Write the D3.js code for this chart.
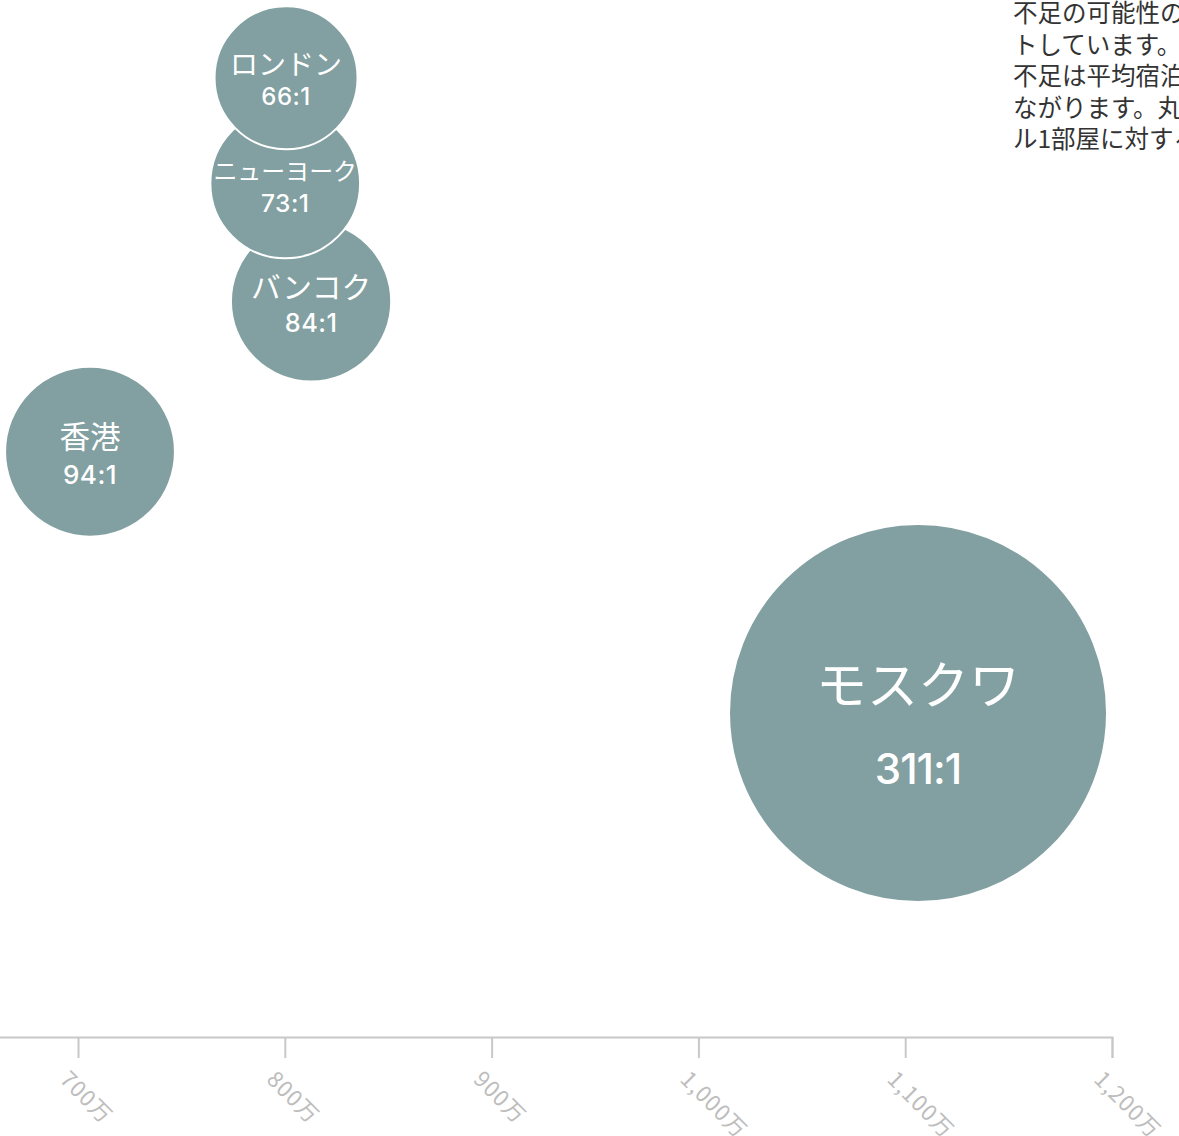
<!DOCTYPE html>
<html lang="ja">
<head>
<meta charset="utf-8">
<script src="https://cdn.jsdelivr.net/npm/d3@7"></script>
<style>
  html, body { margin: 0; padding: 0; background: #fff; overflow: hidden; }
  svg { display: block; font-family: "Noto Sans CJK JP", "Noto Sans", sans-serif; }
</style>
</head>
<body>
<svg id="chart" width="1179" height="1136"></svg>
<script>
// Cities, population (x), hotel rooms (y) and visitors per hotel room (bubble)
const cities = ["ロンドン", "ニューヨーク", "バンコク", "香港", "モスクワ"];
const population = [8006000, 8002000, 8127000, 7058000, 11062000];
const hotelRooms = [148000, 131700, 113500, 90300, 50000];
const visitorsPerRoom = [66, 73, 84, 94, 311];

const xTicks = [7000000, 8000000, 9000000, 10000000, 11000000, 12000000];
const xTickLabels = ["700万", "800万", "900万", "1,000万", "1,100万", "1,200万"];

const noteLines = [
  "不足の可能性のある都市をプロッ",
  "トしています。一般に、客室",
  "不足は平均宿泊料金の上昇につ",
  "ながります。丸の大きさはホテ",
  "ル1部屋に対する旅行者数です。"
];

const data = cities.map((c, i) => ({
  city: c, pop: population[i], rooms: hotelRooms[i], ratio: visitorsPerRoom[i]
}));

const svg = d3.select("#chart");
const axisY = 1037;

const x = d3.scaleLinear().domain([6600000, 12000000]).range([-4.7, 1112]);
const y = d3.scaleLinear().domain([0, 160000]).range([axisY, 0]);
const r = d3.scaleLinear().domain([66, 311]).range([71.5, 189]);
const nameSize = d3.scaleLinear().domain([71.5, 189]).range([28, 51]);
const ratioSize = d3.scaleLinear().domain([71.5, 189]).range([24, 42]);

// bubbles, largest ratio drawn first so the smaller ones sit on top
const order = data.slice().sort((a, b) => d3.descending(a.ratio, b.ratio));
const g = svg.append("g");
const bubble = g.selectAll("g.bubble").data(order).join("g")
  .attr("class", "bubble")
  .attr("transform", d => `translate(${x(d.pop)},${y(d.rooms)})`);

bubble.append("circle")
  .attr("r", d => r(d.ratio))
  .attr("fill", "#82a0a1")
  .attr("stroke", "#fff")
  .attr("stroke-width", 2);

bubble.append("text")
  .attr("text-anchor", "middle")
  .attr("fill", "#fff")
  .attr("font-weight", 400)
  .attr("font-size", d => {
    const rr = r(d.ratio);
    return Math.min(nameSize(rr), (1.92 * rr) / d.city.length);
  })
  .attr("y", d => -r(d.ratio) * 0.045)
  .text(d => d.city);

bubble.append("text")
  .attr("text-anchor", "middle")
  .attr("fill", "#fff")
  .attr("font-family", "Inter, 'Noto Sans', sans-serif")
  .attr("font-weight", 500)
  .attr("font-size", d => ratioSize(r(d.ratio)))
  .attr("letter-spacing", d => r(d.ratio) > 150 ? -1 : 0.5)
  .attr("y", d => r(d.ratio) * 0.37 + 1)
  .text(d => `${d.ratio}:1`);

// x axis
const xAxis = d3.axisBottom(x)
  .tickValues(xTicks)
  .tickFormat((d, i) => xTickLabels[i])
  .tickSize(21)
  .tickSizeOuter(21);

const ax = svg.append("g")
  .attr("transform", `translate(0,${axisY})`)
  .call(xAxis);

ax.select(".domain").attr("stroke", "#c8c8c8").attr("stroke-width", 2);
ax.selectAll(".tick line").attr("stroke", "#c8c8c8").attr("stroke-width", 2);
ax.selectAll(".tick text")
  .attr("fill", "#bdbdbd")
  .attr("font-size", 22)
  .attr("font-family", "'Noto Sans CJK JP', sans-serif")
  .attr("letter-spacing", 1)
  .attr("text-anchor", "start")
  .attr("x", 17)
  .attr("y", 45)
  .attr("dy", 0)
  .attr("transform", "rotate(45)");

// explanatory note
svg.append("text")
  .attr("x", 1013)
  .attr("y", 22)
  .attr("fill", "#333")
  .attr("font-size", 24.5)
  .selectAll("tspan").data(noteLines).join("tspan")
  .attr("x", 1013)
  .attr("dy", (d, i) => i === 0 ? 0 : 31.6)
  .text(d => d);
</script>
</body>
</html>
